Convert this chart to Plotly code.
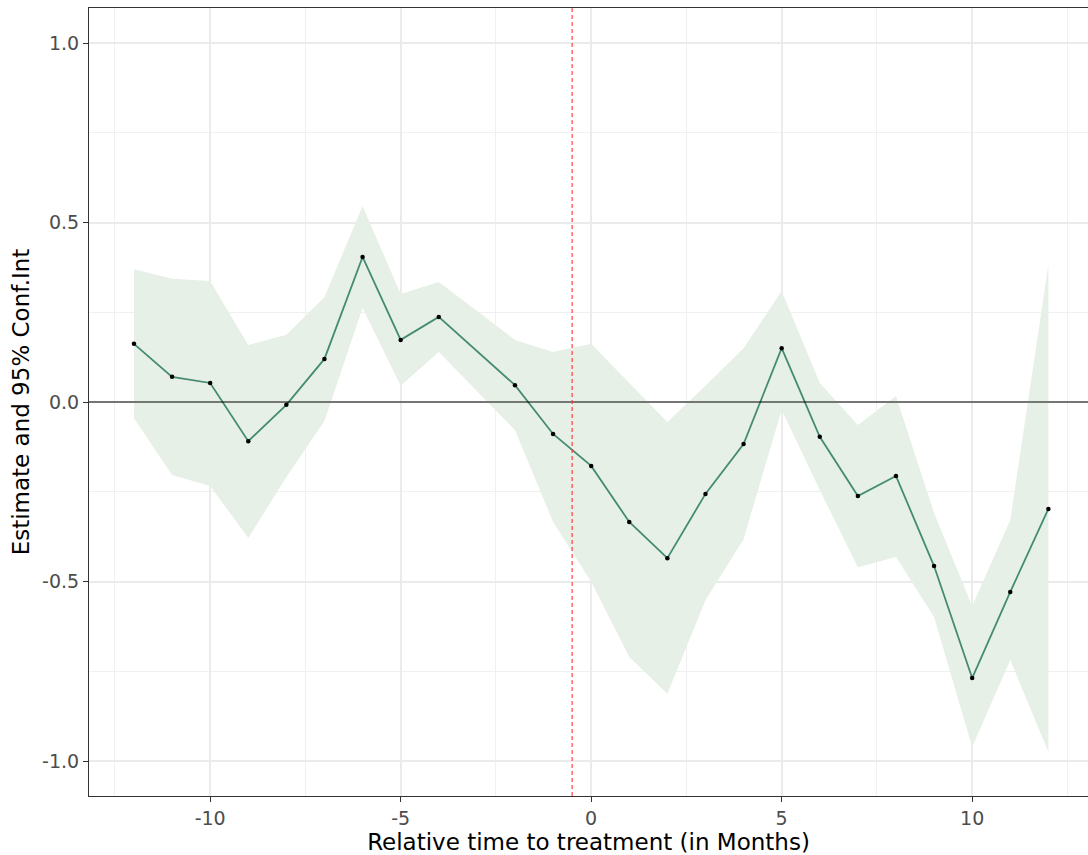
import plotly.graph_objects as go

rel_time = [-12, -11, -10, -9, -8, -7, -6, -5, -4, -2, -1, 0, 1, 2, 3, 4, 5, 6, 7, 8, 9, 10, 11, 12]
estimate = [0.162, 0.070, 0.053, -0.109, -0.008, 0.120, 0.404, 0.173, 0.237, 0.047, -0.089, -0.178,
            -0.334, -0.435, -0.256, -0.117, 0.150, -0.097, -0.262, -0.206, -0.457, -0.769, -0.529, -0.298]
ci_upper = [0.370, 0.343, 0.337, 0.159, 0.187, 0.292, 0.546, 0.301, 0.334, 0.173, 0.139, 0.162,
            0.053, -0.056, 0.045, 0.150, 0.309, 0.053, -0.064, 0.017, -0.309, -0.568, -0.329, 0.382]
ci_lower = [-0.045, -0.203, -0.234, -0.379, -0.209, -0.053, 0.262, 0.045, 0.139, -0.078, -0.334, -0.501,
            -0.710, -0.813, -0.552, -0.382, -0.022, -0.245, -0.460, -0.432, -0.599, -0.961, -0.719, -0.975]
x_ticks = [-10, -5, 0, 5, 10]
x_tick_labels = ["-10", "-5", "0", "5", "10"]
y_ticks = [-1.0, -0.5, 0.0, 0.5, 1.0]
y_tick_labels = ["-1.0", "-0.5", "0.0", "0.5", "1.0"]
treatment_line = -0.5

fig = go.Figure()
fig.add_trace(go.Scatter(x=rel_time, y=ci_upper, mode="lines", line=dict(width=0),
                         showlegend=False, hoverinfo="skip"))
fig.add_trace(go.Scatter(x=rel_time, y=ci_lower, mode="lines", line=dict(width=0),
                         fill="tonexty", fillcolor="#E6F0E6", showlegend=False, hoverinfo="skip"))
fig.add_trace(go.Scatter(x=rel_time, y=estimate, mode="lines", line=dict(color="#458B74", width=1.8),
                         showlegend=False))
fig.add_trace(go.Scatter(x=rel_time, y=estimate, mode="markers",
                         marker=dict(color="black", size=4.5), showlegend=False))

fig.add_shape(type="line", xref="paper", x0=0, x1=1, yref="y", y0=0, y1=0,
              line=dict(color="black", width=1.1), layer="above")
fig.add_shape(type="line", xref="x", x0=treatment_line, x1=treatment_line, yref="paper", y0=0, y1=1,
              line=dict(color="#FF3030", width=1.1, dash="4px,3px"), layer="above")

axis_common = dict(
    showline=True, linecolor="#333333", linewidth=1, mirror=True,
    ticks="outside", ticklen=5, tickcolor="#333333", tickwidth=1.2,
    gridcolor="#EBEBEB", gridwidth=1.8, zeroline=False,
    tickfont=dict(family="DejaVu Sans", size=19, color="#4D4D4D"),
)

fig.update_layout(
    width=1088, height=855,
    margin=dict(l=89, r=0, t=8, b=59),
    paper_bgcolor="white", plot_bgcolor="white",
    font=dict(family="DejaVu Sans"),
    xaxis=dict(range=[-13.18, 13.04], tickvals=x_ticks, ticktext=x_tick_labels,
               minor=dict(dtick=5, tick0=-12.5, showgrid=True, gridcolor="#F0F0F0", gridwidth=1, ticks=""),
               title=dict(text="Relative time to treatment (in Months)",
                          font=dict(family="DejaVu Sans", size=23, color="black"), standoff=2),
               **axis_common),
    yaxis=dict(range=[-1.0975, 1.0975], tickvals=y_ticks, ticktext=y_tick_labels,
               minor=dict(dtick=0.5, tick0=-0.75, showgrid=True, gridcolor="#F0F0F0", gridwidth=1, ticks=""),
               title=dict(text="Estimate and 95% Conf.Int",
                          font=dict(family="DejaVu Sans", size=23, color="black"), standoff=6),
               **axis_common),
)

fig.write_html("out.html", config={"displayModeBar": False},
               post_script="document.body.style.margin='0';document.body.style.overflow='hidden';")
